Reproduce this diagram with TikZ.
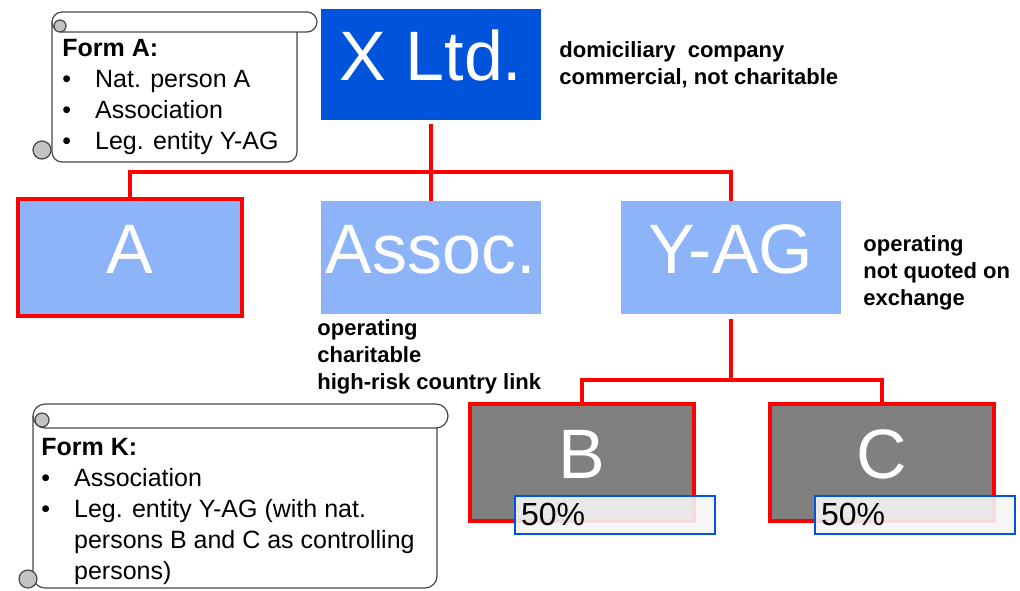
\documentclass[tikz,border=0pt]{standalone}
\usepackage{fontspec}
\setmainfont{Liberation Sans}
\usepackage{tikz}
\usepackage{color}

\definecolor{xblue}{RGB}{0,84,220}
\definecolor{lightblue}{RGB}{141,180,248}
\definecolor{boxgrey}{RGB}{128,128,128}
\definecolor{pctblue}{RGB}{0,85,221}
\definecolor{scrollgrey}{RGB}{70,70,70}
\definecolor{curlgrey}{RGB}{195,195,195}

\begin{document}
\begin{tikzpicture}[%
      x=0.5pt, y=-0.5pt,
      entity/.style={inner sep=0pt, text=white, text height=25.5pt, text depth=9.5pt,
        font=\fontsize{35}{40}\selectfont},
      topbox/.style={entity, fill=xblue, minimum width=110pt, minimum height=55.5pt},
      subbox/.style={entity, fill=lightblue, minimum width=110pt, minimum height=56.5pt},
      ownbox/.style={entity, draw=red, line width=2pt, minimum width=112pt, minimum height=58.5pt},
      share/.style={draw=pctblue, line width=1pt, fill=gray!8, fill opacity=0.9, text opacity=1,
        inner xsep=3pt, inner ysep=0pt, text width=94pt, align=left, minimum height=19pt,
        font=\fontsize{16}{18}\selectfont},
      note/.style={anchor=west, inner sep=0pt, align=left, font=\bfseries\fontsize{11}{13.5}\selectfont},
      form/.style={anchor=west, inner sep=0pt, font=\fontsize{12.5}{15.5}\selectfont},
      link/.style={red, line width=2.2pt},
      scroll/.style={draw=scrollgrey, line width=0.6pt, fill=white},
      curl/.style={draw=scrollgrey, line width=0.6pt, fill=curlgrey},
      ]
      \useasboundingbox (0,0) rectangle (1020,590);

      % scrolls
      \draw [scroll, rounded corners=5pt] (52,22) -- (52,162) -- (297,162) -- (297,22);
      \draw [scroll, rounded corners=5pt] (52,12) rectangle (317,32);
      \draw [curl] (60,26) circle (3pt);
      \draw [curl] (42,150) circle (4.5pt);

      \draw [scroll, rounded corners=6pt] (33,416) -- (33,588) -- (437,588) -- (437,416);
      \draw [scroll, rounded corners=6pt] (33,404) rectangle (448,428);
      \draw [curl] (42,420) circle (3.5pt);
      \draw [curl] (28,579) circle (4.5pt);

      \node[form] (forma) at (62,97) {%
        \begin{tabular}{@{}l@{\hspace{12pt}}l@{}}
        \multicolumn{2}{@{}l@{}}{\bfseries Form A:}\\
        \textbullet & Nat. person A\\
        \textbullet & Association\\
        \textbullet & Leg. entity Y-AG
        \end{tabular}};
      \node[form] (formk) at (41,511) {%
        \begin{tabular}{@{}l@{\hspace{12pt}}l@{}}
        \multicolumn{2}{@{}l@{}}{\bfseries Form K:}\\
        \textbullet & Association\\
        \textbullet & Leg. entity Y-AG (with nat.\\
                    & persons B and C as controlling\\
                    & persons)
        \end{tabular}};

      % entities
      \node[topbox] (xltd) at (431,64.5) {X Ltd.};
      \node[ownbox, fill=lightblue] (a) at (130,257.5) {A};
      \node[subbox] (assoc) at (431,257.5) {Assoc.};
      \node[subbox] (yag) at (731,257.5) {Y-AG};
      \node[ownbox, fill=boxgrey] (b) at (582,462.5) {B};
      \node[ownbox, fill=boxgrey] (c) at (882,462.5) {C};

      \coordinate (upper) at (431,172);
      \coordinate (lower) at (731,380);

      \draw[link] ([yshift=-2pt]xltd.south) -- (upper);
      \draw[link] (a.north) |- (upper) -| (yag.north);
      \draw[link] (upper) -- (assoc.north);
      \draw[link] ([yshift=-2.5pt]yag.south) -- (lower);
      \draw[link] (b.north) |- (lower) -| (c.north);

      \node[share] (shareb) at (615,514.5) {50\%};
      \node[share] (sharec) at (915,514.5) {50\%};

      \node[note] (xnote) at (559,65) {domiciliary~ company\\commercial, not charitable};
      \node[note] (assocnote) at (317,357) {operating\\charitable\\high-risk country link};
      \node[note] (yagnote) at (863,273) {operating\\not quoted on\\exchange};
      \end{tikzpicture}
\end{document}
